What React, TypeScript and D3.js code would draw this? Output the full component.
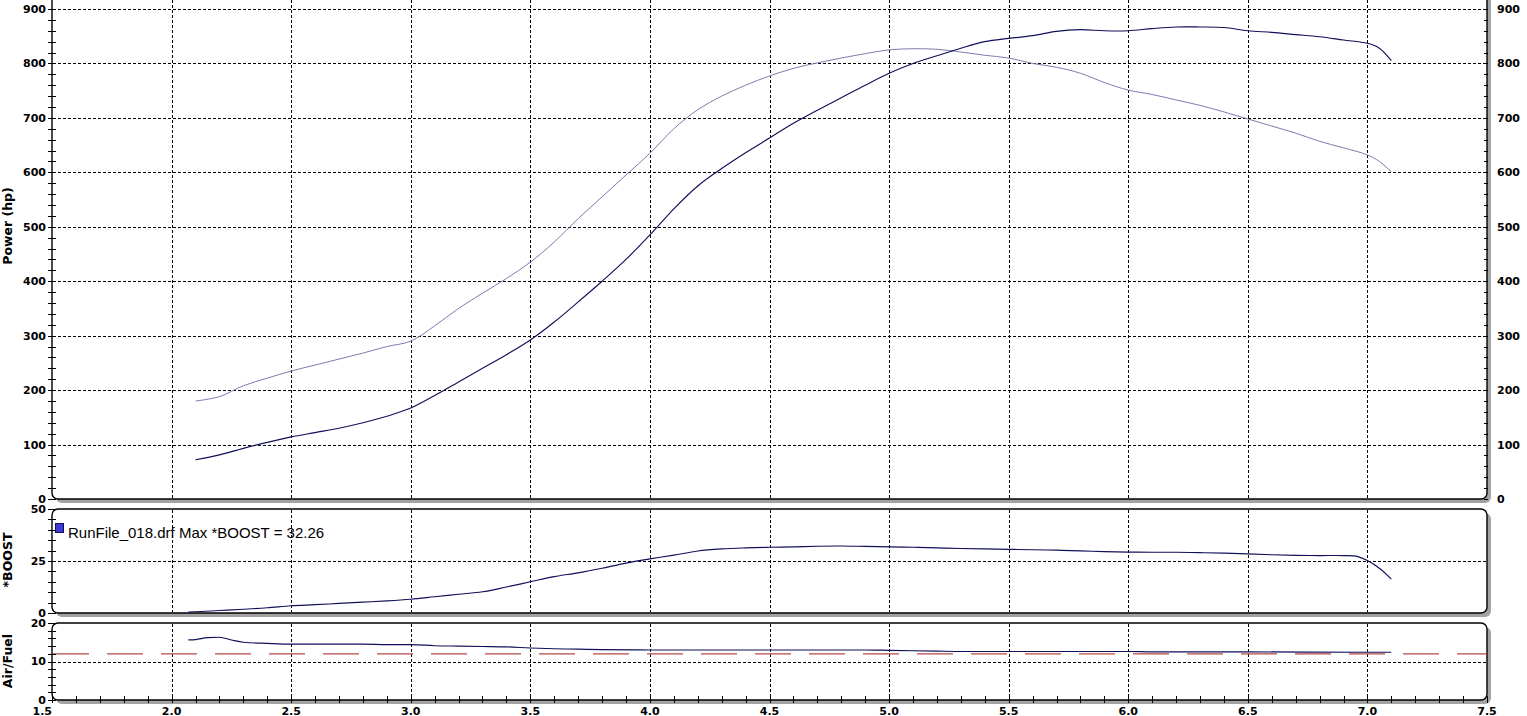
import React from "react";
import * as d3 from "d3";

// ---------- DATA ----------
const rpm = [2.1, 2.2, 2.3, 2.4, 2.5, 2.6, 2.7, 2.8, 2.9, 3.0, 3.1, 3.2, 3.3, 3.4, 3.5, 3.6, 3.7, 3.8, 3.9, 4.0, 4.1, 4.2, 4.3, 4.4, 4.5, 4.6, 4.7, 4.8, 4.9, 5.0, 5.1, 5.2, 5.3, 5.4, 5.5, 5.6, 5.7, 5.8, 5.9, 6.0, 6.1, 6.2, 6.3, 6.4, 6.5, 6.6, 6.7, 6.8, 6.9, 7.0, 7.05, 7.1];
const powerHp = [72, 81, 93, 104, 114, 122, 130, 140, 152, 167, 190, 215, 240, 265, 292, 325, 362, 400, 440, 485, 533, 575, 607, 636, 663, 690, 714, 737, 760, 782, 800, 814, 828, 840, 846, 851, 859, 862, 860, 860, 864, 867, 867, 866, 860, 857, 853, 849, 843, 837, 828, 805];
const torque = [180, 188, 208, 222, 235, 246, 257, 268, 280, 290, 318, 350, 378, 405, 435, 472, 515, 555, 595, 635, 680, 715, 740, 760, 777, 791, 801, 810, 818, 825, 827, 826, 821, 815, 810, 800, 793, 782, 765, 751, 743, 733, 723, 711, 698, 685, 672, 657, 645, 632, 620, 601];

const boostRpm = [2.07, 2.1, 2.2, 2.3, 2.4, 2.5, 2.6, 2.7, 2.8, 2.9, 3.0, 3.1, 3.2, 3.3, 3.4, 3.5, 3.6, 3.7, 3.8, 3.9, 4.0, 4.1, 4.2, 4.3, 4.4, 4.5, 4.6, 4.7, 4.8, 4.9, 5.0, 5.1, 5.2, 5.3, 5.4, 5.5, 5.6, 5.7, 5.8, 5.9, 6.0, 6.1, 6.2, 6.3, 6.4, 6.5, 6.6, 6.7, 6.8, 6.9, 6.96, 7.0, 7.05, 7.1];
const boost = [0.5, 0.6, 1.2, 1.8, 2.5, 3.5, 4.0, 4.6, 5.2, 5.8, 6.6, 7.8, 9.0, 10.2, 12.5, 15.0, 17.5, 19.3, 21.5, 24.0, 26.0, 27.8, 29.8, 30.8, 31.3, 31.6, 31.8, 32.1, 32.2, 32.0, 31.8, 31.6, 31.3, 31.0, 30.8, 30.6, 30.4, 30.2, 29.9, 29.5, 29.3, 29.2, 29.2, 29.0, 28.8, 28.4, 28.0, 27.7, 27.6, 27.6, 27.1, 25.2, 21.5, 16.3];

const afrRpm = [2.07, 2.1, 2.15, 2.2, 2.25, 2.3, 2.4, 2.5, 2.6, 2.7, 2.8, 2.9, 3.0, 3.1, 3.2, 3.3, 3.4, 3.5, 3.6, 3.7, 3.8, 4.0, 4.5, 4.9, 5.0, 5.1, 5.2, 5.3, 6.0, 6.1, 6.5, 7.0, 7.1];
const afr = [15.6, 15.7, 16.2, 16.3, 15.6, 15.0, 14.7, 14.5, 14.5, 14.5, 14.5, 14.4, 14.4, 14.1, 14.0, 13.9, 13.8, 13.5, 13.3, 13.2, 13.1, 13.0, 13.0, 13.0, 12.9, 12.8, 12.7, 12.6, 12.6, 12.5, 12.5, 12.4, 12.4];
const afrTarget = 12;

const xTicks = [1.5, 2.0, 2.5, 3.0, 3.5, 4.0, 4.5, 5.0, 5.5, 6.0, 6.5, 7.0, 7.5];
const powerTicks = [0, 100, 200, 300, 400, 500, 600, 700, 800, 900];
const boostTicks = [0, 25, 50];
const afrTicks = [0, 10, 20];
const legendText = "RunFile_018.drf Max *BOOST = 32.26";

// ---------- LAYOUT ----------
const W = 1527, H = 716;
const L = 52, R = 1487;
const x = d3.scaleLinear().domain([1.5, 7.5]).range([L, R]);
const yP = d3.scaleLinear().domain([0, 900]).range([499, 9]);
const yB = d3.scaleLinear().domain([0, 50]).range([613, 509]);
const yA = d3.scaleLinear().domain([0, 20]).range([700, 623]);

const tickFont = "'DejaVu Sans', Verdana, sans-serif";
const DARK = "#10105a";
const LIGHT = "#7c7cae";

function Panel({ top, bottom }: { top: number; bottom: number }) {
  return (
    <g>
      <rect x={L + 4} y={top + 4} width={R - L} height={bottom - top} rx={6} fill="#a3a3a3" />
      <rect x={L} y={top} width={R - L} height={bottom - top} rx={6} fill="#fff" stroke="#000" strokeWidth={1.4} />
    </g>
  );
}

export default function App() {
  const lineP = d3.line<number>().x((_, i) => x(rpm[i])).y((d) => yP(d)).curve(d3.curveCatmullRom);
  const lineB = d3.line<number>().x((_, i) => x(boostRpm[i])).y((d) => yB(d)).curve(d3.curveCatmullRom);
  const lineA = d3.line<number>().x((_, i) => x(afrRpm[i])).y((d) => yA(d)).curve(d3.curveMonotoneX);

  const minorP = d3.range(0, 901, 20);
  const minorB = d3.range(0, 51, 5);
  const minorA = d3.range(0, 21, 2);
  const minorX = d3.range(15, 76, 1).map((v) => v / 10);

  const vGrid = xTicks.slice(1, -1);

  return (
    <svg width={W} height={H} style={{ position: "absolute", left: 0, top: 0, background: "#fff" }}>
      <rect x={0} y={0} width={W} height={H} fill="#fff" />
      {/* panels */}
      <Panel top={-30} bottom={499} />
      <Panel top={509} bottom={613} />
      <Panel top={623} bottom={700} />

      {/* grids */}
      <g stroke="#000" strokeWidth={1} strokeDasharray="3,2" fill="none">
        {powerTicks.slice(1).map((t) => (
          <line key={"gp" + t} x1={L + 1} x2={R - 1} y1={Math.round(yP(t)) + 0.5} y2={Math.round(yP(t)) + 0.5} />
        ))}
        <line x1={L + 1} x2={R - 1} y1={Math.round(yB(25)) + 0.5} y2={Math.round(yB(25)) + 0.5} />
        <line x1={L + 1} x2={R - 1} y1={Math.round(yA(10)) + 0.5} y2={Math.round(yA(10)) + 0.5} />
        {vGrid.map((t) => (
          <g key={"gv" + t}>
            <line x1={Math.round(x(t)) + 0.5} x2={Math.round(x(t)) + 0.5} y1={-30} y2={498} />
            <line x1={Math.round(x(t)) + 0.5} x2={Math.round(x(t)) + 0.5} y1={510} y2={612} />
            <line x1={Math.round(x(t)) + 0.5} x2={Math.round(x(t)) + 0.5} y1={624} y2={699} />
          </g>
        ))}
      </g>

      {/* AFR target */}
      <line x1={L + 1} x2={R} y1={yA(afrTarget)} y2={yA(afrTarget)} stroke="#b54a4a" strokeWidth={1.2} strokeDasharray="36,18" />

      {/* data lines */}
      <path d={lineP(torque) || ""} fill="none" stroke={LIGHT} strokeWidth={1} />
      <path d={lineP(powerHp) || ""} fill="none" stroke={DARK} strokeWidth={1.15} />
      <path d={lineB(boost) || ""} fill="none" stroke={DARK} strokeWidth={1.15} />
      <path d={lineA(afr) || ""} fill="none" stroke={DARK} strokeWidth={1.15} />

      {/* left ticks */}
      <g stroke="#000" strokeWidth={1}>
        {minorP.map((t) => (
          <line key={"tp" + t} x1={48} x2={56} y1={Math.round(yP(t)) + 0.5} y2={Math.round(yP(t)) + 0.5} />
        ))}
        {minorB.map((t) => (
          <line key={"tb" + t} x1={48} x2={56} y1={Math.round(yB(t)) + 0.5} y2={Math.round(yB(t)) + 0.5} />
        ))}
        {minorA.map((t) => (
          <line key={"ta" + t} x1={48} x2={56} y1={Math.round(yA(t)) + 0.5} y2={Math.round(yA(t)) + 0.5} />
        ))}
        {minorP.map((t) => (
          <line key={"tr" + t} x1={R - 3} x2={R + 1} y1={Math.round(yP(t)) + 0.5} y2={Math.round(yP(t)) + 0.5} />
        ))}
        {minorX.map((t) => (
          <line key={"tx" + t} x1={Math.round(x(t)) + 0.5} x2={Math.round(x(t)) + 0.5} y1={696} y2={703} />
        ))}
      </g>

      {/* tick labels */}
      <g fontFamily={tickFont} fontWeight="bold" fontSize={11} fill="#000">
        {powerTicks.map((t) => (
          <text key={"lp" + t} x={46} y={yP(t)} dy="0.36em" textAnchor="end">{t}</text>
        ))}
        {powerTicks.map((t) => (
          <text key={"lr" + t} x={1497} y={yP(t)} dy="0.36em" textAnchor="start">{t}</text>
        ))}
        {boostTicks.map((t) => (
          <text key={"lb" + t} x={46} y={yB(t)} dy="0.36em" textAnchor="end">{t}</text>
        ))}
        {afrTicks.map((t) => (
          <text key={"la" + t} x={46} y={yA(t)} dy="0.36em" textAnchor="end">{t}</text>
        ))}
        {xTicks.map((t, i) => (
          <text key={"lx" + t} x={i === 0 ? L : x(t)} y={714.5} textAnchor={i === 0 ? "end" : "middle"}>{t.toFixed(1)}</text>
        ))}
      </g>

      {/* axis titles */}
      <g fontFamily={tickFont} fontWeight="bold" fontSize={12.5} fill="#000" textAnchor="middle">
        <text transform={`translate(12,${226}) rotate(-90)`}>Power (hp)</text>
        <text transform={`translate(12,${560}) rotate(-90)`}>*BOOST</text>
        <text transform={`translate(12,${661}) rotate(-90)`}>Air/Fuel</text>
      </g>

      {/* legend */}
      <rect x={55.5} y={523.5} width={8} height={9} fill="#3a3ad6" stroke="#10105a" strokeWidth={1} />
      <text x={68} y={537.5} fontFamily="'Liberation Sans', Arial, sans-serif" fontSize={15} fill="#000">{legendText}</text>
    </svg>
  );
}
